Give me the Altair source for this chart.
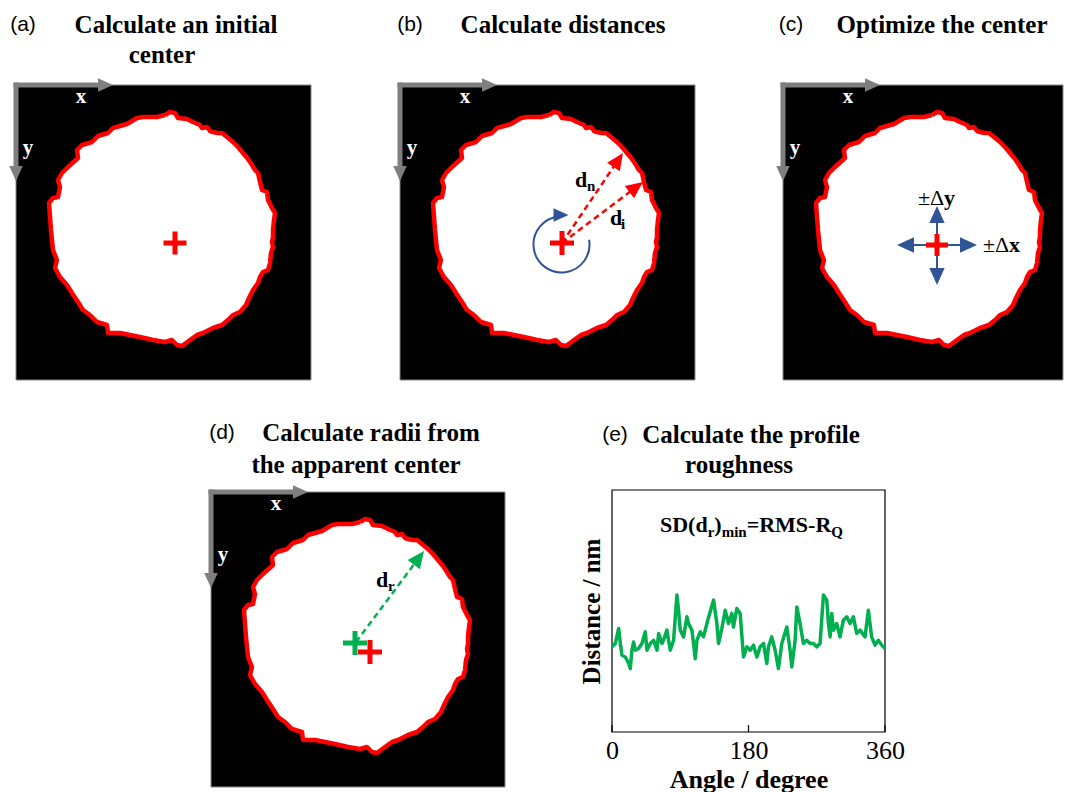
import math
import altair as alt
import pandas as pd

W, H = 1067, 792
SERIF = "Liberation Serif"
SANS = "Liberation Sans"
RED, GREEN, BLUE, GREY = "#FF0000", "#00B050", "#2F5597", "#7F7F7F"

# ---------------- data ----------------
# particle outline (same image in panels a-d), pixels inside its frame
blob_x = [149, 154, 159, 162, 171, 177, 184, 186, 191, 194,
          197, 202, 206, 211, 217, 222, 227, 232, 236, 239,
          242, 244, 246, 251, 252, 256, 259, 258, 257, 257,
          256, 257, 255, 254, 252, 247, 244, 242, 237, 233,
          230, 224, 217, 212, 206, 197, 187, 181, 174, 166,
          161, 156, 149, 137, 124, 114, 104, 92, 91, 81,
          74, 67, 62, 56, 51, 44, 39, 41, 37, 36,
          35, 34, 33, 37, 42, 44, 42, 46, 52, 62,
          61, 66, 76, 82, 92, 97, 111, 121, 127, 141]
blob_y = [30, 27, 28, 33, 34, 37, 40, 43, 42, 46,
          47, 48, 48, 52, 57, 62, 68, 74, 80, 85,
          88, 97, 105, 107, 115, 123, 128, 135, 145, 152,
          157, 162, 168, 178, 185, 187, 192, 198, 205, 213,
          220, 227, 230, 235, 240, 243, 248, 250, 255, 261,
          260, 255, 257, 255, 252, 250, 248, 248, 240, 237,
          230, 225, 217, 208, 200, 192, 183, 175, 165, 155,
          145, 132, 118, 113, 112, 102, 95, 88, 82, 73,
          65, 60, 57, 51, 48, 43, 39, 33, 32, 32]

# (e) radius profile vs angle
profile_angle = [0, 4.4, 8.8, 11.0, 13.2, 17.6, 22.0, 24.1, 26.3, 28.5,
                 30.7, 35.1, 39.5, 43.9, 46.1, 50.5, 54.9, 59.3, 61.5, 65.9,
                 68.0, 72.4, 76.8, 81.2, 85.6, 87.8, 90.0, 94.4, 98.8, 101.0,
                 105.4, 109.8, 112.0, 116.3, 120.7, 125.1, 129.5, 133.9, 138.3, 140.5,
                 144.9, 149.3, 153.7, 158.0, 160.2, 164.6, 169.0, 173.4, 177.8, 182.2,
                 186.6, 191.0, 195.4, 199.8, 204.1, 206.3, 210.7, 215.1, 219.5, 223.9,
                 230.5, 234.9, 237.1, 241.5, 243.7, 248.0, 252.4, 256.8, 261.2, 265.6,
                 270.0, 274.4, 278.8, 283.2, 285.4, 287.6, 289.8, 292.0, 296.3, 300.7,
                 305.1, 309.5, 313.9, 318.3, 322.7, 327.1, 333.7, 338.0, 342.4, 346.8,
                 351.2, 355.6, 360.0]
profile_distance = [35.2, 36.6, 42.8, 36.6, 31.7, 31.0, 28.3, 26.2, 33.8, 37.2,
                    33.8, 34.5, 36.6, 41.4, 33.8, 36.6, 37.9, 33.8, 40.7, 36.6,
                    37.9, 42.1, 33.8, 37.9, 56.6, 50.3, 42.1, 39.3, 47.6, 44.8,
                    42.1, 30.3, 37.9, 41.4, 39.3, 44.8, 49.7, 54.5, 44.8, 36.6,
                    42.8, 50.3, 44.8, 49.0, 43.4, 51.0, 49.0, 31.0, 35.2, 33.8,
                    35.9, 31.0, 35.2, 36.6, 28.3, 35.2, 39.3, 33.8, 26.2, 36.6,
                    43.4, 33.8, 26.9, 37.9, 51.7, 44.8, 36.6, 37.9, 36.6, 36.6,
                    35.2, 36.6, 56.6, 54.5, 44.8, 39.3, 49.0, 42.1, 44.8, 39.3,
                    46.2, 47.6, 44.8, 47.6, 40.7, 42.1, 39.3, 50.3, 39.3, 35.9,
                    37.9, 35.9, 34.5]
angle_ticks = [0, 180, 360]

panel_tags = ["(a)", "(b)", "(c)", "(d)", "(e)"]
panel_titles = [["Calculate an initial", "center"], ["Calculate distances"],
                ["Optimize the center"], ["Calculate radii from", "the apparent center"],
                ["Calculate the profile", "roughness"]]
sd_pieces = ["SD(d", "r", ")", "min", "=RMS-R", "Q"]
sd_is_sub = [False, True, False, True, False, True]

# ---------------- layout ----------------
FRAMES = {"a": (16, 85, 295, 295), "b": (400, 85, 295, 295),
          "c": (783, 85, 280, 295), "d": (211, 492, 294, 295)}
TAG_POS = [(23, 25), (410, 25), (791, 25), (222, 433), (615, 435)]
TITLE_POS = [[(176, 25), (162, 55)], [(563, 25)], [(942, 25)],
             [(371, 433), (356, 465)], [(751, 435), (739, 465)]]
E_X0, E_X1, E_Y0, E_Y1 = 612, 885, 490, 732   # plot box of panel (e)

PX = alt.Scale(domain=[0, W], range=[0, W], nice=False, zero=False)
PY = alt.Scale(domain=[0, H], range=[0, H], nice=False, zero=False)
ANG = alt.Scale(domain=[0, 360], range=[E_X0, E_X1], nice=False, zero=False)
DIST = alt.Scale(domain=[0, 100], range=[E_Y1, E_Y0], nice=False, zero=False)


def px(f):
    return alt.X(f, type="quantitative", scale=PX, axis=None)


def py(f):
    return alt.Y(f, type="quantitative", scale=PY, axis=None)


layers = []

# black image frames
sq = pd.DataFrame([{"x": x, "y": y, "x2": x + w, "y2": y + h} for (x, y, w, h) in FRAMES.values()])
layers.append(alt.Chart(sq).mark_rect(fill="black", stroke="#8a8a8a", strokeWidth=1).encode(
    x=px("x"), x2=alt.X2("x2"), y=py("y"), y2=alt.Y2("y2")))

# particle outlines
rows = []
for p, (fx, fy, fw, fh) in FRAMES.items():
    pts = list(zip(blob_x, blob_y)) + [(blob_x[0], blob_y[0])]
    for i, (bx, by) in enumerate(pts):
        rows.append({"panel": p, "i": i, "x": fx + bx, "y": fy + by})
layers.append(alt.Chart(pd.DataFrame(rows)).mark_line(
    fill="white", stroke=RED, strokeWidth=4.5, strokeJoin="round").encode(
    x=px("x"), y=py("y"), detail="panel:N", order="i:Q"))

# arrows: (x1, y1, tip_x, tip_y, style, head length)
arrows = []
for (fx, fy, fw, fh) in FRAMES.values():
    arrows.append((fx - 2.5, fy, fx + 97, fy, "grey", 15))
    arrows.append((fx, fy - 2.5, fx, fy + 96, "grey", 15))
arrows += [(562, 243, 623, 153, "red", 17), (562, 243, 643, 182, "red", 17)]
arrows += [(356, 642, 424, 551, "green", 17)]
arrows += [(937, 245, 897, 245, "blue", 17), (937, 245, 977, 245, "blue", 17),
           (937, 245, 937, 206, "blue", 17), (937, 245, 937, 285, "blue", 17)]
COL = {"grey": GREY, "red": RED, "green": GREEN, "blue": BLUE}

shaft_rows, head_rows = [], []
for (x1, y1, x2, y2, st, L) in arrows:
    d = math.hypot(x2 - x1, y2 - y1)
    ux, uy = (x2 - x1) / d, (y2 - y1) / d
    shaft_rows.append({"x": x1, "y": y1, "x2": x2 - ux * (L - 3), "y2": y2 - uy * (L - 3), "st": st})
    ang = math.degrees(math.atan2(ux, -uy)) % 360
    head_rows.append({"x": x2 - ux * L / 2, "y": y2 - uy * L / 2, "angle": ang,
                      "size": L * L, "color": COL[st]})
# head of the circular arrow in (b)
head_rows.append({"x": 561, "y": 215, "angle": 90, "size": 15 * 15, "color": BLUE})
shafts = pd.DataFrame(shaft_rows)

SHAFT_STYLE = {"grey": dict(color=GREY, strokeWidth=5),
               "red": dict(color=RED, strokeWidth=2.5, strokeDash=[6, 4]),
               "green": dict(color=GREEN, strokeWidth=2.5, strokeDash=[6, 4]),
               "blue": dict(color=BLUE, strokeWidth=2)}
for st, style in SHAFT_STYLE.items():
    layers.append(alt.Chart(shafts[shafts.st == st]).mark_rule(**style).encode(
        x=px("x"), y=py("y"), x2=alt.X2("x2"), y2=alt.Y2("y2")))

# circular arrow in (b)
layers.append(alt.Chart(pd.DataFrame([{"x": 561.5, "y": 244.5}])).mark_arc(
    radius=28, radius2=28, theta=1.4, theta2=6.2, filled=False,
    color=BLUE, strokeWidth=2).encode(x=px("x"), y=py("y")))

TRI = "M0,-1L0.9,1L-0.9,1Z"
layers.append(alt.Chart(pd.DataFrame(head_rows)).mark_point(
    shape=TRI, filled=True, opacity=1, strokeWidth=0).encode(
    x=px("x"), y=py("y"), color=alt.Color("color:N", scale=None),
    size=alt.Size("size:Q", scale=None), angle=alt.Angle("angle:Q", scale=None)))

# centre markers
PLUS = "M-1,0H1M0,-1V1"
plus_rows = [{"x": 175, "y": 243, "size": 23 * 23, "color": RED},
             {"x": 562, "y": 243, "size": 24 * 24, "color": RED},
             {"x": 937, "y": 245, "size": 22 * 22, "color": RED},
             {"x": 355, "y": 643, "size": 24 * 24, "color": GREEN},
             {"x": 370, "y": 652, "size": 24 * 24, "color": RED}]
layers.append(alt.Chart(pd.DataFrame(plus_rows)).mark_point(
    shape=PLUS, filled=False, opacity=1, strokeWidth=5).encode(
    x=px("x"), y=py("y"), color=alt.Color("color:N", scale=None),
    size=alt.Size("size:Q", scale=None)))

# ---------------- texts ----------------
texts = []


def add(text, x, y, size, font, weight, color="black", align="center"):
    texts.append({"text": text, "x": x, "y": y, "size": size, "font": font,
                  "weight": weight, "color": color, "align": align})


for tag, (x, y) in zip(panel_tags, TAG_POS):
    add(tag, x, y, 21, SANS, "normal")
for lines, poss in zip(panel_titles, TITLE_POS):
    for t, (x, y) in zip(lines, poss):
        add(t, x, y, 25, SERIF, "bold")
for (fx, fy, fw, fh) in FRAMES.values():
    add("x", fx + 65, fy + 12, 21, SERIF, "bold", "white")
    add("y", fx + 12, fy + 63, 21, SERIF, "bold", "white")
# distance labels
add("d", 575, 180, 22, SERIF, "bold", align="left")
add("n", 587, 186, 15, SERIF, "bold", align="left")
add("d", 610, 218, 22, SERIF, "bold", align="left")
add("i", 621, 224, 15, SERIF, "bold", align="left")
add("d", 376, 580, 22, SERIF, "bold", align="left")
add("r", 388, 586, 15, SERIF, "bold", align="left")
# shifts in (c)
add("\u00b1\u0394", 918, 198, 22, SERIF, "normal", align="left")
add("y", 944, 198, 22, SERIF, "bold", align="left")
add("\u00b1\u0394", 983, 245, 22, SERIF, "normal", align="left")
add("x", 1009, 245, 22, SERIF, "bold", align="left")
# formula in (e), widths from Times-Bold metrics
TB = {"S": 556, "D": 722, "(": 333, ")": 333, "d": 556, "r": 444, "m": 833, "i": 278,
      "n": 556, "=": 570, "R": 722, "M": 944, "-": 333, "Q": 778}
cx = 660
for piece, sub in zip(sd_pieces, sd_is_sub):
    fs = 15 if sub else 22
    add(piece, cx, 532 if sub else 525, fs, SERIF, "bold", align="left")
    cx += sum(TB[c] for c in piece) / 1000 * fs

tdf = pd.DataFrame(texts)
for (font, weight, align), g in tdf.groupby(["font", "weight", "align"]):
    layers.append(alt.Chart(g).mark_text(font=font, fontWeight=weight, align=align,
                                         baseline="middle").encode(
        x=px("x"), y=py("y"), text="text:N", size=alt.Size("size:Q", scale=None),
        color=alt.Color("color:N", scale=None)))

# ---------------- panel (e) plot ----------------
prof = pd.DataFrame({"angle": profile_angle, "distance": profile_distance})
box = pd.DataFrame([{"a0": 0, "a1": 360, "d0": 0, "d1": 100}])
layers.append(alt.Chart(box).mark_rect(filled=False, stroke="black", strokeWidth=1.2).encode(
    x=alt.X("a0:Q", scale=ANG, axis=None), x2="a1:Q",
    y=alt.Y("d0:Q", scale=DIST, axis=None), y2="d1:Q"))
layers.append(alt.Chart(pd.DataFrame({"angle": angle_ticks})).mark_rule(
    color="black", strokeWidth=1.2).encode(
    x=alt.X("angle:Q", scale=ANG, axis=None), y=alt.value(E_Y1), y2=alt.value(E_Y1 - 7)))
layers.append(alt.Chart(prof).mark_line(color=GREEN, strokeWidth=3.5, strokeJoin="round").encode(
    x=alt.X("angle:Q", scale=ANG, axis=alt.Axis(
        orient="bottom", offset=E_Y1 - H, values=angle_ticks, grid=False, domain=False,
        ticks=False, labelFont=SERIF, labelFontSize=26, labelColor="black",
        labelPadding=5, labelFlush=False, labelOverlap=False,
        title="Angle / degree", titleFont=SERIF, titleFontSize=26,
        titleFontWeight="bold", titleColor="black", titlePadding=3)),
    y=alt.Y("distance:Q", scale=DIST, axis=alt.Axis(
        orient="left", offset=-E_X0, grid=False, domain=False, ticks=False, labels=False,
        title="Distance / nm", titleFont=SERIF, titleFontSize=25,
        titleFontWeight="bold", titleColor="black", titlePadding=8))))

chart = alt.layer(*layers).resolve_scale(x="independent", y="independent").properties(
    width=W, height=H, padding=0, autosize=alt.AutoSizeParams(type="none"),
    background="white").configure_view(stroke="transparent")

chart.save("out.html", embed_options={"renderer": "svg", "actions": False})
